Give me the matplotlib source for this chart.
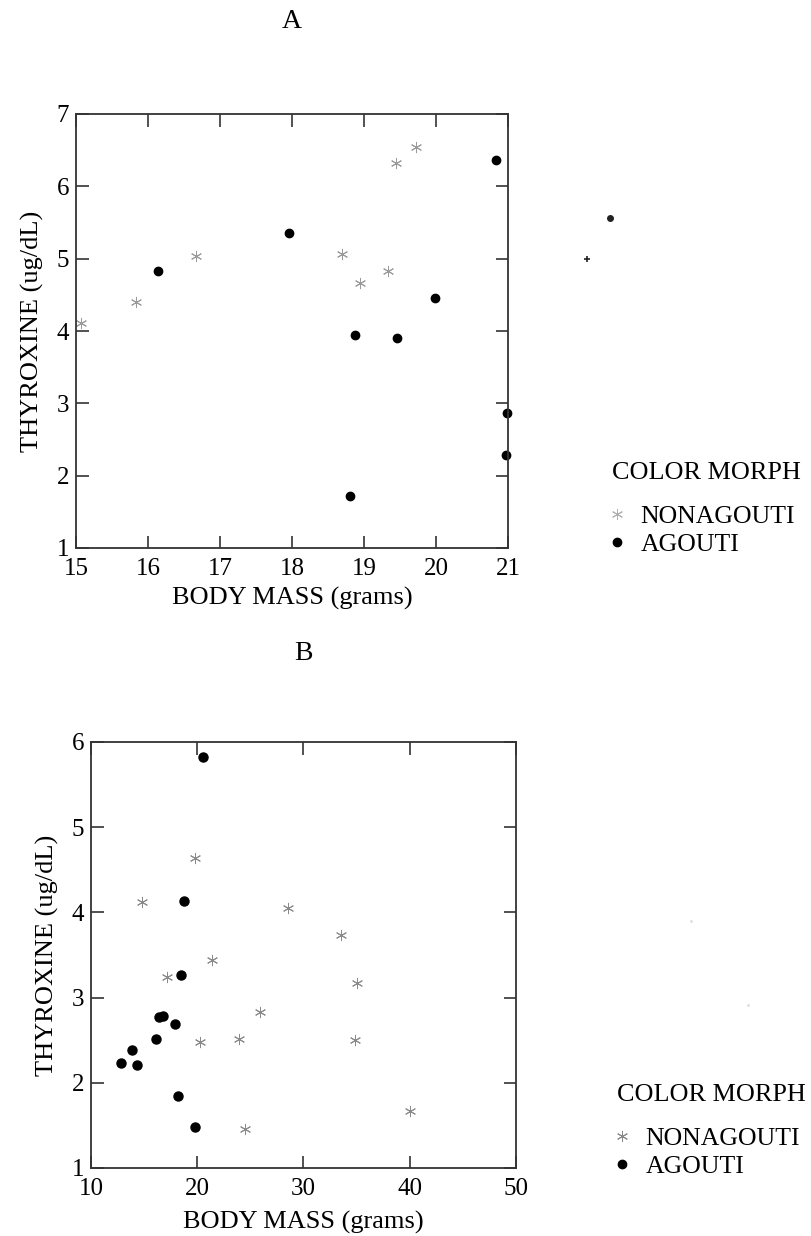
import matplotlib
matplotlib.use("Agg")
import matplotlib.pyplot as plt
from matplotlib.lines import Line2D

plt.rcParams['font.family'] = ['Liberation Serif', 'DejaVu Serif']

# panel A: body mass (g) vs thyroxine (ug/dL)
a_non_mass = [15.07, 15.83, 16.67, 18.70, 18.95, 19.33, 19.45, 19.72]
a_non_t4 = [4.11, 4.40, 5.04, 5.07, 4.66, 4.83, 6.32, 6.55]
a_ago_mass = [16.14, 17.96, 18.87, 18.80, 19.46, 19.98, 20.84, 20.99, 20.97]
a_ago_t4 = [4.83, 5.36, 3.94, 1.72, 3.90, 4.45, 6.36, 2.86, 2.28]
# points that fall past the right edge of panel A
a_out_non_mass = [22.1]
a_out_non_t4 = [4.99]
a_out_ago_mass = [22.42]
a_out_ago_t4 = [5.56]

# panel B
b_non_mass = [14.77, 19.79, 28.52, 21.36, 17.19, 20.26, 23.94, 25.91, 24.47,
              33.54, 35.02, 34.83, 40.04]
b_non_t4 = [4.12, 4.64, 4.05, 3.44, 3.24, 2.48, 2.51, 2.83, 1.46,
            3.74, 3.17, 2.50, 1.67]
b_ago_mass = [20.57, 18.73, 18.45, 16.43, 16.81, 17.91, 16.12, 13.83, 12.82,
              14.30, 18.19, 19.76]
b_ago_t4 = [5.82, 4.13, 3.27, 2.77, 2.78, 2.69, 2.51, 2.39, 2.23,
            2.21, 1.85, 1.48]
b_out_mass = [66.5, 71.8]
b_out_t4 = [3.90, 2.91]

a_xticks = [15, 16, 17, 18, 19, 20, 21]
a_yticks = [1, 2, 3, 4, 5, 6, 7]
b_xticks = [10, 20, 30, 40, 50]
b_yticks = [1, 2, 3, 4, 5, 6]

FS = 18
W, H = 812, 1236
fig = plt.figure(figsize=(W / 100, H / 100), dpi=100)

axA = fig.add_axes([76 / W, 1 - 548 / H, 432 / W, 434 / H])
axB = fig.add_axes([91 / W, 1 - 1168 / H, 425 / W, 426 / H])


def style_axes(ax, xticks, yticks, xpad):
    ax.set_xlim(xticks[0], xticks[-1])
    ax.set_ylim(yticks[0], yticks[-1])
    ax.set_xticks(xticks)
    ax.set_yticks(yticks)
    ax.tick_params(direction='in', length=9, width=1.1, top=True, right=True,
                   labelsize=FS, color='#222222')
    ax.tick_params(axis='x', pad=7)
    ax.tick_params(axis='y', pad=5)
    for s in ax.spines.values():
        s.set_linewidth(1.3)
        s.set_color('#333333')
    ax.set_xlabel('BODY MASS (grams)', fontsize=FS + 1, labelpad=xpad)
    ax.set_ylabel('THYROXINE (ug/dL)', fontsize=FS + 1, labelpad=9)


star = (6, 2, 0)

axA.plot(a_non_mass, a_non_t4, linestyle='none', marker=star, markersize=8,
         mew=0.7, color='#9a9a9a')
axA.plot(a_ago_mass, a_ago_t4, linestyle='none', marker='o', markersize=6,
         color='black', clip_on=False)
axA.plot(a_out_non_mass, a_out_non_t4, linestyle='none', marker='+', markersize=4,
         mew=1.2, color='#222222', clip_on=False)
axA.plot(a_out_ago_mass, a_out_ago_t4, linestyle='none', marker='o', markersize=4,
         color='#222222', clip_on=False)
style_axes(axA, a_xticks, a_yticks, 5)

axB.plot(b_non_mass, b_non_t4, linestyle='none', marker=star, markersize=8,
         mew=0.7, color='#8a8a8a')
axB.plot(b_ago_mass, b_ago_t4, linestyle='none', marker='o', markersize=6.5,
         color='black')
axB.plot(b_out_mass, b_out_t4, linestyle='none', marker='.', markersize=2,
         color='#dddddd', clip_on=False)
style_axes(axB, b_xticks, b_yticks, 8)

fig.text(292 / W, 1 - 21 / H, 'A', ha='center', va='center', fontsize=FS + 2)
fig.text(303 / W, 1 - 653 / H, 'B', ha='center', va='center', fontsize=FS + 2)

for ax, lx, ly, non_col in [(axA, 612, 462, '#b0b0b0'), (axB, 617, 1084, '#8a8a8a')]:
    handles = [Line2D([], [], linestyle='none', marker=star, markersize=8, mew=0.7,
                      color=non_col),
               Line2D([], [], linestyle='none', marker='o', markersize=6, color='black')]
    leg = ax.legend(handles, ['NONAGOUTI', 'AGOUTI'], title='COLOR MORPH',
                    loc='upper left', bbox_to_anchor=(lx / W, 1 - ly / H),
                    bbox_transform=fig.transFigure, frameon=False, fontsize=FS + 0.5,
                    title_fontsize=FS + 0.8, alignment='left', handlelength=0.4,
                    handletextpad=0.72, labelspacing=0.22, borderpad=0,
                    borderaxespad=0)
    leg._legend_box.sep = 15

fig.savefig('out.png', dpi=100)
